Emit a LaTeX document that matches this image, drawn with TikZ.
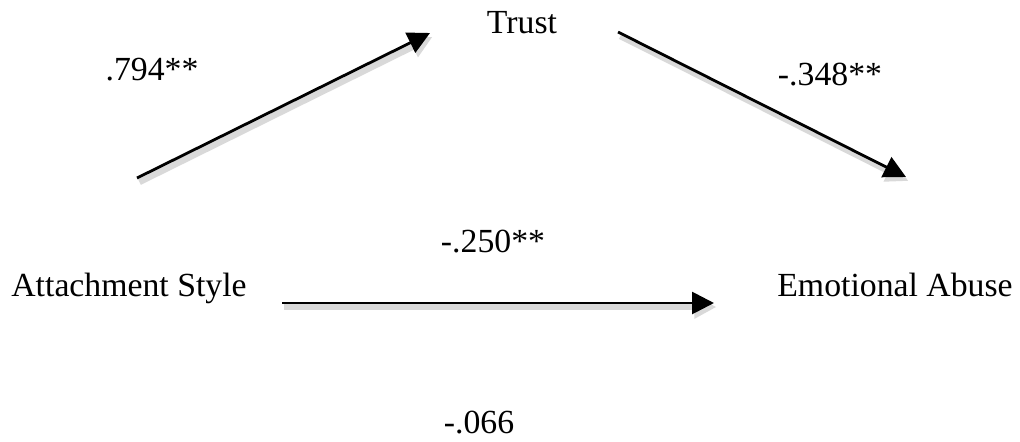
\documentclass[tikz,border=0pt]{standalone}
\usepackage{fontspec}
\setmainfont{Liberation Serif}
\usetikzlibrary{arrows.meta,positioning}
\tikzset{
  % Variable label
  var/.style={font=\fontsize{24}{28}\selectfont, inner sep=0pt, anchor=base},
  % Coefficient label
  coef/.style={font=\fontsize{24}{28}\selectfont, inner sep=0pt, anchor=base},
  % Path arrow with soft shadow
  path arr/.style={
    -{Triangle[length=0.55cm,width=0.55cm]},
    line width=0.07cm, color=black,
    preaction={draw=black!15, line width=0.16cm,
      transform canvas={xshift=0.06cm,yshift=-0.1cm}}
  }
}

\begin{document}
\begin{tikzpicture}[x=0.025cm,y=-0.025cm]

  \useasboundingbox (0,0) rectangle (1020,441);

  % Variables
  \node[var] (trust)  at (522,33)  {Trust};
  \node[var] (attach) at (129,296) {Attachment Style};
  \node[var] (abuse)  at (895,296) {Emotional Abuse};

  % Arrow end points
  \coordinate (a1s) at (137,178);
  \coordinate (a1e) at (430,33);
  \coordinate (a2s) at (618,32);
  \coordinate (a2e) at (906,177);
  \coordinate (a3s) at (282,303);
  \coordinate (a3e) at (714,303);

  \draw[path arr] (a1s) -- (a1e);
  \draw[path arr] (a2s) -- (a2e);
  \draw[path arr] (a3s) -- (a3e);

  % Coefficients
  \node[coef] (c1) at (152,80)  {.794**};
  \node[coef] (c2) at (830,85)  {-.348**};
  \node[coef] (c3) at (493,252) {-.250**};
  \node[coef] (c4) at (479,433) {-.066};

\end{tikzpicture}
\end{document}
